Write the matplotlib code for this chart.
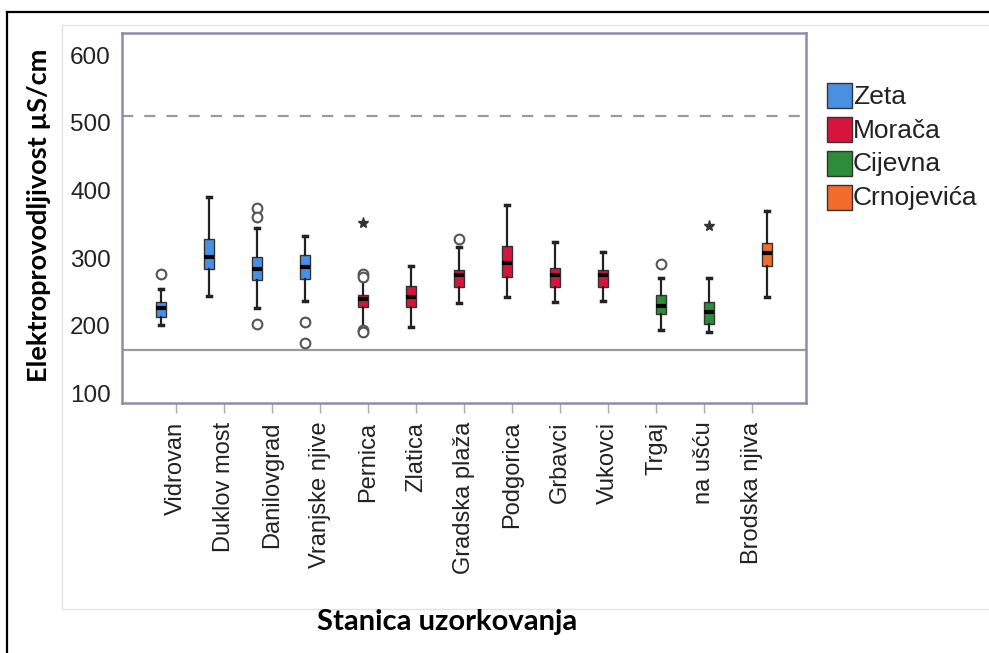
import matplotlib
matplotlib.use("Agg")
import matplotlib.pyplot as plt
from matplotlib.patches import Rectangle
from matplotlib.lines import Line2D

# Sampling stations and the river each belongs to
stations = ["Vidrovan", "Duklov most", "Danilovgrad", "Vranjske njive", "Pernica",
            "Zlatica", "Gradska plaža", "Podgorica", "Grbavci", "Vukovci",
            "Trgaj", "na ušću", "Brodska njiva"]
rivers = ["Zeta", "Morača", "Cijevna", "Crnojevića"]
river_colors = ["#4a90e2", "#d7143c", "#2e8b3a", "#f26b2a"]
station_river = [0, 0, 0, 0, 1, 1, 1, 1, 1, 1, 2, 2, 3]

# Box statistics (µS/cm)
whis_lo = [201, 244, 226, 236, 197, 198, 233, 243, 235, 237, 193, 191, 242]
q1      = [213, 284, 268, 269, 227, 227, 258, 272, 257, 258, 217, 203, 289]
median  = [226, 301, 284, 287, 239, 243, 275, 293, 275, 275, 229, 221, 308]
q3      = [235, 328, 301, 304, 245, 259, 282, 318, 286, 282, 245, 235, 323]
whis_hi = [254, 391, 344, 333, 268, 289, 317, 378, 324, 309, 270, 270, 370]
outliers = [[276], [], [374, 361, 203], [206, 175], [276, 272, 193, 190], [],
            [328], [], [], [], [291], [], []]
extremes = [[], [], [], [], [352], [], [], [], [], [], [], [348], []]

limit_upper = 510
limit_lower = 164

W, H = 989, 653
fig = plt.figure(figsize=(W / 100, H / 100), dpi=100)

def fx(px):
    return px / W

def fy(py):
    return 1 - py / H

# Page frame lines
fig.add_artist(Line2D([fx(7), fx(7)], [fy(12), fy(653)], color="black", lw=1.6))
fig.add_artist(Line2D([fx(7), fx(989)], [fy(12), fy(12)], color="black", lw=1.6))
# Chart area outline
fig.add_artist(Line2D([fx(62), fx(989)], [fy(25), fy(25)], color="#e2e2e2", lw=1.0))
fig.add_artist(Line2D([fx(62), fx(62)], [fy(25), fy(609)], color="#e2e2e2", lw=1.0))
fig.add_artist(Line2D([fx(62), fx(989)], [fy(609), fy(609)], color="#e2e2e2", lw=1.0))

ax = fig.add_axes([fx(122), fy(403), fx(806) - fx(122), fy(33) - fy(403)])

slot_w = 0.21
positions = [i + (station_river[i] - 1.5) * slot_w for i in range(len(stations))]

stats = []
for i in range(len(stations)):
    stats.append(dict(whislo=whis_lo[i], q1=q1[i], med=median[i], q3=q3[i],
                      whishi=whis_hi[i], fliers=[]))

bp = ax.bxp(stats, positions=positions, widths=0.2, patch_artist=True,
            showfliers=False, capwidths=0.07,
            boxprops=dict(edgecolor="#333333", linewidth=1.0),
            medianprops=dict(color="black", linewidth=3.0),
            whiskerprops=dict(color="#222222", linewidth=1.6),
            capprops=dict(color="#222222", linewidth=2.5))
for i, box in enumerate(bp["boxes"]):
    box.set_facecolor(river_colors[station_river[i]])

for i in range(len(stations)):
    if outliers[i]:
        ax.plot([positions[i]] * len(outliers[i]), outliers[i], linestyle="none",
                marker="o", markersize=7, markerfacecolor="white",
                markeredgecolor="#555555", markeredgewidth=1.5, zorder=4)
    if extremes[i]:
        ax.plot([positions[i]] * len(extremes[i]), extremes[i], linestyle="none",
                marker="*", markersize=8, color="#333333", zorder=4)

ax.axhline(limit_upper, color="#9a9a9a", lw=1.6, dashes=(5, 5), zorder=1)
ax.axhline(limit_lower, color="#9a9a9a", lw=1.6, zorder=1)

ax.set_xlim(-1.125, 13.125)
ax.set_ylim(85.7, 633)
ax.set_yticks([100, 200, 300, 400, 500, 600])
ax.set_xticks(range(len(stations)))
ax.set_xticklabels(stations, rotation=90, family="Liberation Sans",
                   fontsize=17, color="#222222", va="top")
for lbl in ax.get_yticklabels():
    lbl.set_family("Liberation Sans")
    lbl.set_fontsize(17.5)
    lbl.set_color("#222222")
ax.tick_params(axis="y", length=0, pad=8)
ax.tick_params(axis="x", length=7.5, width=1.0, color="#aaaaaa", pad=6)

for sp in ax.spines.values():
    sp.set_color("#8e8aaa")
    sp.set_linewidth(1.8)

# Legend built from square swatches
sw = 25
for k, name in enumerate(rivers):
    top = 83 + k * 34
    fig.add_artist(Rectangle((fx(827), fy(top + sw)), sw / W, sw / H,
                             facecolor=river_colors[k], edgecolor="#333333",
                             lw=1.0, transform=fig.transFigure))
    fig.text(fx(853), fy(top + sw / 2 + 1), name, family="Liberation Sans",
             fontsize=19, color="#222222", va="center", ha="left")

fig.text(fx(39), fy(215), "Elektroprovodljivost µS/cm", family="Lato",
         fontweight="bold", fontsize=19.5, rotation=90, ha="center", va="center")
fig.text(fx(447), fy(622), "Stanica uzorkovanja", family="Lato",
         fontweight="bold", fontsize=21, ha="center", va="center")

fig.savefig("out.png", dpi=100)
